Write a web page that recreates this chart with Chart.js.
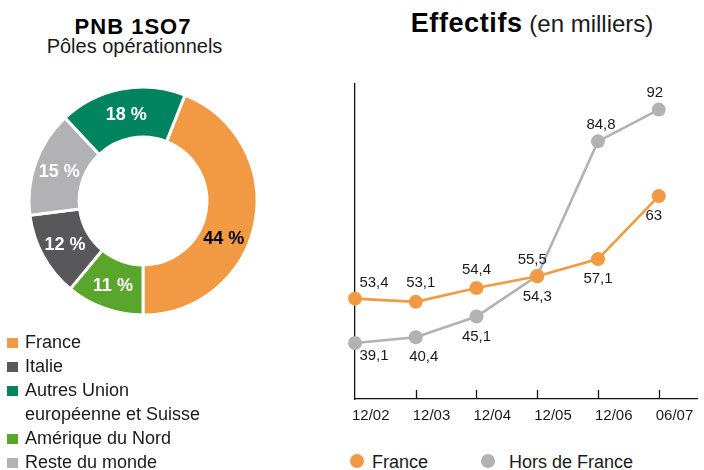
<!DOCTYPE html>
<html><head><meta charset="utf-8">
<script src="https://cdn.jsdelivr.net/npm/chart.js@4"></script>
<style>
html,body{margin:0;padding:0;background:#fff}
body{width:704px;height:470px;position:relative;overflow:hidden;font-family:"Liberation Sans",Arial,Helvetica,sans-serif;color:#1a1a1a}
.abs{position:absolute}
#t1{left:0;width:266px;top:16px;text-align:center;font-weight:bold;font-size:22px;line-height:22px;color:#000;letter-spacing:1px}
#t2{left:0;width:269px;top:36px;text-align:center;font-size:20px;line-height:20px}
#t3{left:382px;width:300px;top:10px;text-align:center;line-height:27px;color:#000;white-space:nowrap}
#t3 b{font-size:27px;letter-spacing:0.6px}
#t3 span{font-size:24px;color:#1a1a1a}
.lg{font-size:18px;line-height:24px;white-space:nowrap}
.sq{position:absolute;width:11px;height:10px}
.dot{position:absolute;width:14px;height:14px;border-radius:50%}
</style></head>
<body>
<div id="t1" class="abs">PNB 1SO7</div>
<div id="t2" class="abs">Pôles opérationnels</div>
<div id="t3" class="abs"><b>Effectifs</b><span> (en milliers)</span></div>
<canvas id="donut" class="abs" width="280" height="260" style="left:3px;top:71px"></canvas>
<canvas id="line" class="abs" width="364" height="360" style="left:340px;top:70px"></canvas>
<div id="legL"></div>
<div id="legR"></div>
<script>
// ---- data ----
const donutCategories = ['France', 'Italie', ['Autres Union', 'européenne et Suisse'], 'Amérique du Nord', 'Reste du monde'];
const donutShares = [44, 12, 18, 11, 15];
const periods = ['12/02', '12/03', '12/04', '12/05', '12/06', '06/07'];
const franceStaff = [53.4, 53.1, 54.4, 55.5, 57.1, 63];
const abroadStaff = [39.1, 40.4, 45.1, 54.3, 84.8, 92];
const seriesNames = ['France', 'Hors de France'];

// ---- style ----
const FONT = '"Liberation Sans", Arial, Helvetica, sans-serif';
const donutColors = ['#F29A43', '#58585A', '#00845F', '#5AA52C', '#B2B2B4'];
const donutLabelColors = ['#000', '#fff', '#fff', '#fff', '#fff'];
const donutLabelShift = [14, 0, 0, 0, 0]; // degrees
const drawOrder = [0, 3, 1, 4, 2]; // clockwise from France
const lineColors = ['#F29A43', '#B2B2B4'];
const labelOffsets = [
  [[19,-16],[5,-19],[0,-18],[-5,-16],[0,20],[-5,20]],
  [[19,13],[8,20],[0,20],[0,21],[3,-16],[-4,-17]]
];
const fmt = v => String(v).replace('.', ',');

// ---- legends (HTML text) ----
(function(){
  const L = document.getElementById('legL');
  let row = 0;
  donutCategories.forEach((c, i) => {
    const lines = Array.isArray(c) ? c : [c];
    const top = 330 + row * 24;
    const sq = document.createElement('div');
    sq.className = 'sq'; sq.style.left = '7px'; sq.style.top = (top + 8) + 'px';
    sq.style.background = donutColors[i];
    L.appendChild(sq);
    lines.forEach((t, k) => {
      const d = document.createElement('div');
      d.className = 'abs lg'; d.style.left = '25px'; d.style.top = (top + k * 24) + 'px';
      d.textContent = t; L.appendChild(d);
    });
    row += lines.length;
  });
  const R = document.getElementById('legR');
  const pos = [[357, 372], [488, 509]];
  seriesNames.forEach((n, i) => {
    const dot = document.createElement('div');
    dot.className = 'dot'; dot.style.left = (pos[i][0] - 7) + 'px'; dot.style.top = '454px';
    dot.style.background = lineColors[i]; R.appendChild(dot);
    const d = document.createElement('div');
    d.className = 'abs lg'; d.style.left = pos[i][1] + 'px'; d.style.top = '450px';
    d.textContent = n; R.appendChild(d);
  });
})();

// ---- doughnut ----
const ordered = drawOrder.map(i => donutShares[i]);
const donutLabels = {
  id: 'donutLabels',
  afterDatasetsDraw(chart) {
    const ctx = chart.ctx;
    const meta = chart.getDatasetMeta(0);
    ctx.save();
    ctx.font = 'bold 18px ' + FONT;
    ctx.textAlign = 'center'; ctx.textBaseline = 'middle';
    meta.data.forEach((arc, j) => {
      const src = drawOrder[j];
      const p = arc.getProps(['x','y','startAngle','endAngle','innerRadius','outerRadius'], true);
      const a = (p.startAngle + p.endAngle) / 2 + donutLabelShift[src] * Math.PI / 180;
      const r = (p.innerRadius + p.outerRadius) / 2;
      ctx.fillStyle = donutLabelColors[src];
      ctx.fillText(donutShares[src] + ' %', p.x + r * Math.cos(a), p.y + r * Math.sin(a) + 1);
    });
    ctx.restore();
  }
};
new Chart(document.getElementById('donut'), {
  type: 'doughnut',
  data: {
    labels: drawOrder.map(i => Array.isArray(donutCategories[i]) ? donutCategories[i].join(' ') : donutCategories[i]),
    datasets: [{
      data: ordered,
      backgroundColor: drawOrder.map(i => donutColors[i]),
      borderColor: '#fff', borderWidth: 3, hoverOffset: 0
    }]
  },
  options: {
    responsive: false, animation: false, devicePixelRatio: 1,
    radius: 114, cutout: 72,
    rotation: 180 - donutShares[0] * 3.6,
    plugins: { legend: { display: false }, tooltip: { enabled: false } }
  },
  plugins: [donutLabels]
});

// ---- line chart ----
const inwardTicks = {
  id: 'inwardTicks',
  beforeDatasetsDraw(chart) {
    const xs = chart.scales.x, ctx = chart.ctx, b = chart.chartArea.bottom;
    ctx.save(); ctx.strokeStyle = '#111'; ctx.lineWidth = 1.3;
    xs.ticks.forEach((t, i) => {
      if (i === 0) return;
      const px = Math.round(xs.getPixelForValue(t.value)) + 0.5;
      ctx.beginPath(); ctx.moveTo(px, b); ctx.lineTo(px, b - 9); ctx.stroke();
    });
    ctx.restore();
  }
};
const valueLabels = {
  id: 'valueLabels',
  afterDatasetsDraw(chart) {
    const ctx = chart.ctx;
    ctx.save();
    ctx.font = '15px ' + FONT; ctx.fillStyle = '#1a1a1a';
    ctx.textAlign = 'center'; ctx.textBaseline = 'middle';
    chart.data.datasets.forEach((ds, di) => {
      chart.getDatasetMeta(di).data.forEach((pt, i) => {
        const o = labelOffsets[di][i];
        ctx.fillText(fmt(ds.data[i].y), pt.x + o[0], pt.y + o[1]);
      });
    });
    ctx.restore();
  }
};
const toXY = arr => arr.map((v, i) => ({ x: i, y: v }));
new Chart(document.getElementById('line'), {
  type: 'line',
  data: {
    datasets: [
      { label: seriesNames[0], data: toXY(franceStaff), yAxisID: 'yF',
        borderColor: lineColors[0], backgroundColor: lineColors[0], borderWidth: 2.6,
        pointRadius: 7, pointHoverRadius: 7, pointBorderWidth: 0, pointBackgroundColor: lineColors[0], clip: false, order: 1 },
      { label: seriesNames[1], data: toXY(abroadStaff), yAxisID: 'y',
        borderColor: lineColors[1], backgroundColor: lineColors[1], borderWidth: 2.6,
        pointRadius: 7, pointHoverRadius: 7, pointBorderWidth: 0, pointBackgroundColor: lineColors[1], clip: false, order: 2 }
    ]
  },
  options: {
    responsive: false, animation: false, devicePixelRatio: 1,
    layout: { padding: { left: 15, top: 14, right: 0, bottom: 0 } },
    plugins: { legend: { display: false }, tooltip: { enabled: false } },
    scales: {
      x: {
        type: 'linear', min: 0, max: 5.63,
        grid: { display: false, drawTicks: false },
        border: { color: '#111', width: 1.3 },
        afterBuildTicks: s => { s.ticks = periods.map((_, i) => ({ value: i })); },
        ticks: { align: 'start', labelOffset: -3, padding: 8, color: '#1a1a1a', autoSkip: false, maxRotation: 0,
                 font: { size: 15, family: FONT }, callback: v => periods[v] ?? '' },
        afterFit: s => { s.height = 31; s.paddingLeft = 0; s.paddingRight = 0; }
      },
      y: {
        position: 'left', min: 26.4, max: 97.8,
        grid: { display: false }, ticks: { display: false },
        border: { display: true, color: '#111', width: 1.3 },
        afterFit: s => { s.width = 0; }
      },
      yF: { display: false, min: 44.0, max: 73.5 }
    }
  },
  plugins: [inwardTicks, valueLabels]
});
</script>
</body></html>
